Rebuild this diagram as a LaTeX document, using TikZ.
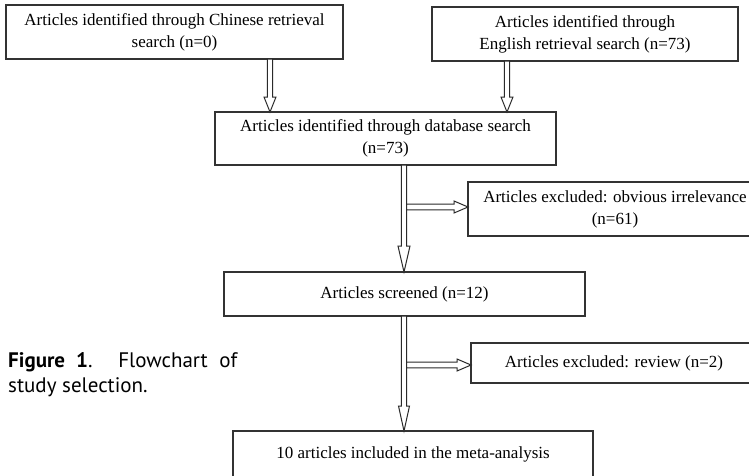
\documentclass[tikz,border=0pt]{standalone}
\usepackage{fontspec}
\setmainfont{Liberation Serif}
\newfontfamily\capfont{PT Sans}
\usepackage{xcolor}
\usetikzlibrary{calc}
\definecolor{boxline}{HTML}{333333}
\definecolor{arrline}{HTML}{2A2A2A}
\tikzset{
  flowbox/.style 2 args={
    rectangle, draw=boxline, line width=1.2pt, fill=white,
    minimum width=#1, minimum height=#2,
    font=\fontsize{17}{22}\selectfont, align=center,
    inner sep=0pt, outer sep=0pt
  },
  blockarrow/.style={
    draw=arrline, line width=1pt, fill=white, line join=miter
  },
  captext/.style={
    font=\capfont\fontsize{21}{25}\selectfont, align=left,
    inner sep=0pt, anchor=west
  },
}
% hollow block arrows: from, to, head length, head half width
\newcommand{\downblock}[4]{%
  \draw[blockarrow] let \p1=(#1), \p2=(#2) in
    (\x1-2.6pt,\y1) -- (\x1-2.6pt,\y2+#3) -- (\x1-#4,\y2+#3) -- (\x1,\y2)
    -- (\x1+#4,\y2+#3) -- (\x1+2.6pt,\y2+#3) -- (\x1+2.6pt,\y1) -- cycle;}
\newcommand{\rightblock}[4]{%
  \draw[blockarrow] let \p1=(#1), \p2=(#2) in
    (\x1,\y1+2.8pt) -- (\x2-#3,\y1+2.8pt) -- (\x2-#3,\y1+#4) -- (\x2,\y1)
    -- (\x2-#3,\y1-#4) -- (\x2-#3,\y1-2.8pt) -- (\x1,\y1-2.8pt) -- cycle;}

\begin{document}
\begin{tikzpicture}[x=1pt, y=-1pt]
  \useasboundingbox (0,0) rectangle (749,475);
  \clip (0,0) rectangle (749,475);
  \fill[white] (0,0) rectangle (749,475);

  % arrow columns and junctions
  \coordinate (colA) at (270,0);
  \coordinate (colB) at (507,0);
  \coordinate (colM) at (404,0);
  \coordinate (j1) at (406.6,207);
  \coordinate (j2) at (406.6,365);

  \node[flowbox={337pt}{54pt}] (chn) at (174.5,32)
    {Articles identified through Chinese retrieval\\ search (n=0)};
  \node[flowbox={306pt}{54pt}] (eng) at (585,34)
    {Articles identified through\\ English retrieval search (n=73)};
  \node[flowbox={341pt}{53pt}] (dbs) at (385.5,138.5)
    {Articles identified through database search\\ (n=73)};
  \node[flowbox={294pt}{54pt}] (irr) at (615,209)
    {Articles excluded: obvious irrelevance\\ (n=61)};
  \node[flowbox={361pt}{44pt}] (scr) at (404.5,294)
    {Articles screened (n=12)};
  \node[flowbox={286pt}{40pt}] (rev) at (614,363)
    {Articles excluded: review (n=2)};
  \node[flowbox={360pt}{46pt}] (inc) at (413,454)
    {10 articles included in the meta-analysis};

  \downblock{chn.south -| colA}{dbs.north -| colA}{15pt}{6pt}
  \downblock{eng.south -| colB}{dbs.north -| colB}{15pt}{6pt}
  \downblock{dbs.south -| colM}{scr.north -| colM}{26pt}{6pt}
  \downblock{scr.south -| colM}{inc.north -| colM}{25pt}{5.5pt}
  \rightblock{j1}{irr.west |- j1}{14pt}{6pt}
  \rightblock{j2}{rev.west |- j2}{14pt}{6pt}

  \node[captext] (cap) at (8,375)
    {\makebox[229pt][s]{\textbf{Figure 1}. Flowchart of}\\ study selection.};
\end{tikzpicture}
\end{document}
